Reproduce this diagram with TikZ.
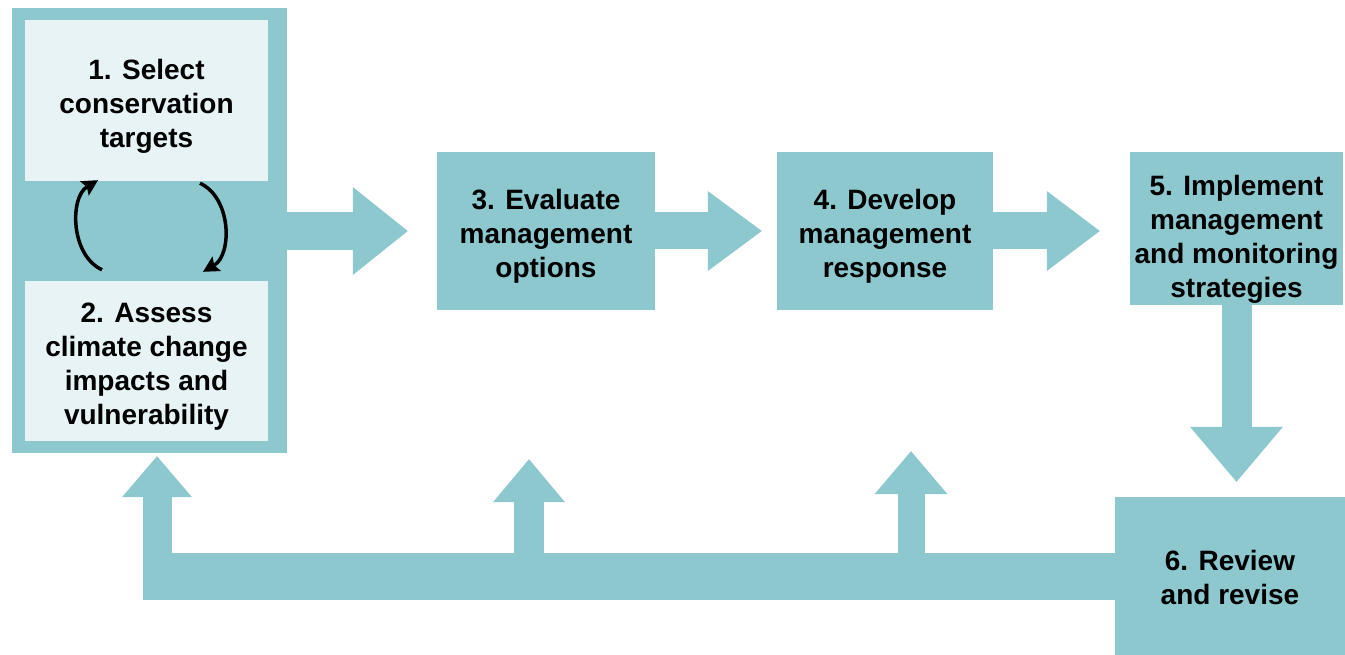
\documentclass[tikz,border=0pt]{standalone}
\usepackage{fontspec}
\setmainfont{Liberation Sans}
\usetikzlibrary{arrows.meta,calc,positioning}
\definecolor{tealbox}{HTML}{8CC8CE}
\definecolor{palebox}{HTML}{E7F3F5}
\newcommand\sink[1]{\rule{0pt}{#1}}
\tikzset{stage/.style={fill=tealbox, inner sep=0pt, align=center, font=\bfseries\fontsize{28}{34}\selectfont}}
\tikzset{pale stage/.style={stage, fill=palebox}}
\tikzset{band/.style n args={3}{draw=tealbox, line width=#1, -{Triangle[width=#2, length=#3, line width=0pt]}}}
\tikzset{swap arrow/.style={draw=black, line width=3.5pt, -{Stealth[length=16pt,width=17pt,inset=3pt,line width=0pt]}}}

\begin{document}
\begin{tikzpicture}[x=1pt,y=-1pt]
      \useasboundingbox (0,0) rectangle (1345,655);
      % boxes
      \node[stage, minimum width=275pt, minimum height=445pt] (outer) at (149.5,230.5) {};
      \node[pale stage, minimum width=243pt, minimum height=161pt] (sel) at (146.5,100.5) {\sink{32pt}1. Select\\conservation\\targets};
      \node[pale stage, minimum width=243pt, minimum height=160pt] (ass) at (146.5,361) {\sink{30pt}2. Assess\\climate change\\impacts and\\vulnerability};
      \node[stage, minimum width=218pt, minimum height=158pt] (eval) at (546,231) {\sink{30pt}3. Evaluate\\management\\options};
      \node[stage, minimum width=216pt, minimum height=158pt] (dev) at (885,231) {\sink{30pt}4. Develop\\management\\response};
      \node[stage, minimum width=213pt, minimum height=153pt] (impl) at (1236.5,228.5) {\sink{42pt}5. Implement\\management\\and monitoring\\strategies};
      \node[stage, minimum width=230pt, minimum height=158pt] (rev) at (1230,576) {\sink{23pt}6. Review\\and revise};
      % free ends
      \coordinate (up1) at ($(outer.south)+(7.5,3)$);
      \coordinate (up2) at ($(eval.south)+(-17,149)$);
      \coordinate (up3) at ($(dev.south)+(26,141)$);
      % forward arrows
      \draw[band={38pt}{88pt}{55pt}] (outer.east |- eval) -- ($(eval.west)+(-29,0)$);
      \draw[band={37pt}{80pt}{54pt}] (eval.east) -- ($(dev.west)+(-15,0)$);
      \draw[band={37pt}{80pt}{53pt}] (dev.east) -- ($(impl.west |- dev)+(-30,0)$);
      \draw[band={30pt}{93pt}{55pt}] (impl.south) -- ($(impl.south |- rev.north)+(0,-15)$);
      % return loop
      \draw[tealbox, line width=47pt] (rev.west) -- ($(up1 |- rev.west)+(-14.5,0)$);
      \draw[band={29pt}{70pt}{41pt}] (up1 |- rev.west) -- (up1);
      \draw[band={30pt}{72pt}{43pt}] (up2 |- rev.west) -- (up2);
      \draw[band={27pt}{73pt}{43pt}] (up3 |- rev.west) -- (up3);
      % cycle between 1 and 2
      \draw[swap arrow] ($(ass.north)+(-44.5,-11)$) .. controls +(-32,-15) and +(-28,17) .. ($(sel.south)+(-48.5,-1)$);
      \draw[swap arrow] ($(sel.south)+(53.5,2)$) .. controls +(32,15) and +(29,-17) .. ($(ass.north)+(56.5,-9)$);
\end{tikzpicture}
\end{document}
